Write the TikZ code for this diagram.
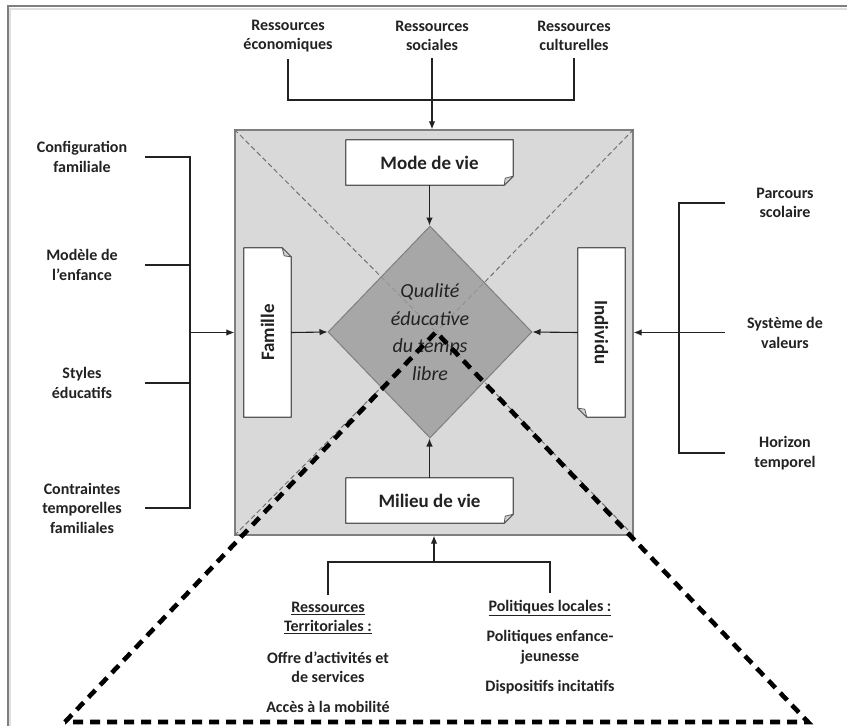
\documentclass[tikz,border=0pt]{standalone}
\usepackage{fontspec}
\setmainfont{Carlito}
\usetikzlibrary{arrows.meta,calc,shapes.geometric}
\definecolor{sqfill}{HTML}{D9D9D9}
\definecolor{dmfill}{HTML}{9C9C9C}
\definecolor{edge}{HTML}{7F7F7F}
\definecolor{ink}{HTML}{222222}
\pgfdeclarelayer{lzero}
\pgfdeclarelayer{lone}
\pgfsetlayers{lzero,lone,main}
\newcommand\noteBR[1]{%
  \begin{pgfonlayer}{lone}
  \draw[notepath] (#1.north west) -- (#1.north east) -- ($(#1.south east)+(0pt,9pt)$) -- ($(#1.south east)+(-9pt,0pt)$) -- (#1.south west) -- cycle;
  \draw[notefold] ($(#1.south east)+(0pt,9pt)$) -- ($(#1.south east)+(-8pt,7pt)$) -- ($(#1.south east)+(-9pt,0pt)$) -- cycle;
  \end{pgfonlayer}}
\newcommand\noteTR[1]{%
  \begin{pgfonlayer}{lone}
  \draw[notepath] (#1.north west) -- ($(#1.north east)+(-9pt,0pt)$) -- ($(#1.north east)+(0pt,-9pt)$) -- (#1.south east) -- (#1.south west) -- cycle;
  \draw[notefold] ($(#1.north east)+(-9pt,0pt)$) -- ($(#1.north east)+(-7pt,-8pt)$) -- ($(#1.north east)+(0pt,-9pt)$) -- cycle;
  \end{pgfonlayer}}
\newcommand\noteBL[1]{%
  \begin{pgfonlayer}{lone}
  \draw[notepath] (#1.north west) -- (#1.north east) -- (#1.south east) -- ($(#1.south west)+(9pt,0pt)$) -- ($(#1.south west)+(0pt,9pt)$) -- cycle;
  \draw[notefold] ($(#1.south west)+(9pt,0pt)$) -- ($(#1.south west)+(7pt,8pt)$) -- ($(#1.south west)+(0pt,9pt)$) -- cycle;
  \end{pgfonlayer}}
\begin{document}
\begin{tikzpicture}[x=1pt,y=-1pt,
  lbl/.style={font=\fontsize{16}{19.5}\selectfont\bfseries, text=ink, align=center, inner sep=0pt},
  boxlbl/.style={font=\fontsize{19}{22}\selectfont\bfseries, text=ink, inner sep=0pt},
  notepath/.style={draw=edge!70!black, line width=1.2pt, fill=white, line join=round},
  notefold/.style={draw=edge!70!black, line width=0.8pt, fill=gray!35, line join=round},
  conn/.style={draw=ink, line width=1.1pt},
  arr/.style={conn, -{Latex[length=8pt,width=6.5pt]}},
  bigdash/.style={draw=black, line width=4.6pt, dash pattern=on 10pt off 7pt, line join=miter},
  thindash/.style={draw=edge!90!black, line width=1pt, dash pattern=on 5pt off 3pt},
]
\useasboundingbox (0,0) rectangle (847,726);
\begin{pgfonlayer}{lzero}
\fill[white] (0,0) rectangle (847,726);
% outer frame
\draw[gray!25, line width=2pt] (10,726) -- (10,9) -- (847,9);
\draw[edge, line width=1.8pt] (8,726) -- (8,6) -- (847,6);
% central square
\node[draw=edge, fill=sqfill, line width=1.3pt, minimum width=398pt, minimum height=405pt, inner sep=0pt] (sq) at (434,332.5) {};
\coordinate (c) at (436,332);
\draw[thindash] (sq.north west) -- (c);
\draw[thindash] (sq.north east) -- (c);
\draw[thindash] (sq.south west) -- (c);
\draw[thindash] (sq.south east) -- (c);
\end{pgfonlayer}

% diamond
\node[diamond, draw=edge, line width=1pt, fill=dmfill, fill opacity=0.82, text opacity=1,
      minimum width=204pt, minimum height=212pt, inner sep=0pt, align=center, text=ink,
      font=\fontsize{20}{27.5}\selectfont\itshape] (dm) at (430,332) {Qualité\\éducative\\du temps\\libre};

% boxes
\node[boxlbl, minimum width=167pt, minimum height=45pt] (mode) at (429.5,162.5) {Mode de vie};
\node[boxlbl, minimum width=167pt, minimum height=45pt] (milieu) at (429.5,500.5) {Milieu de vie};
\node[boxlbl, minimum width=47pt, minimum height=169pt] (fam) at (267.5,332.5) {\rotatebox{90}{Famille}};
\node[boxlbl, minimum width=47pt, minimum height=169pt] (ind) at (601.5,332.5) {\rotatebox{-90}{Individu}};
\noteBR{mode}
\noteBR{milieu}
\noteTR{fam}
\noteBL{ind}

\draw[arr] (mode.south) -- (mode.south |- dm.north);
\draw[arr] (milieu.north) -- (milieu.north |- dm.south);
\draw[arr] (fam.east) -- (dm.west);
\draw[arr] (ind.west) -- (dm.east);

% top labels
\node[lbl] (re) at (288,36) {Ressources\\économiques};
\node[lbl] (rs) at (432,36) {Ressources\\sociales};
\node[lbl] (rc) at (574,36) {Ressources\\culturelles};
\coordinate (tbus) at (0,100);
\draw[conn] ([yshift=-7pt]re.south) -- (re.south |- tbus) -- (rc.south |- tbus) -- ([yshift=-7pt]rc.south);
\draw[arr] ([yshift=-7pt]rs.south) -- (rs.south |- sq.north);

% left labels
\node[lbl] (cf) at (82,157) {Configuration\\familiale};
\node[lbl] (me) at (82,265) {Modèle de\\l’enfance};
\node[lbl] (se) at (82,383) {Styles\\éducatifs};
\node[lbl] (ct) at (82,508) {Contraintes\\temporelles\\familiales};
\coordinate (lx) at (145,0);
\coordinate (lbus) at (190,0);
\draw[conn] (cf.east -| lx) -- (cf.east -| lbus) -- (ct.east -| lbus) -- (ct.east -| lx);
\draw[conn] (me.east -| lx) -- (me.east -| lbus);
\draw[conn] (se.east -| lx) -- (se.east -| lbus);
\draw[arr] (sq.west -| lbus) -- (sq.west);

% right labels
\node[lbl] (pc) at (785,203) {Parcours\\scolaire};
\node[lbl] (sv) at (785,333) {Système de\\valeurs};
\node[lbl] (hz) at (785,453) {Horizon\\temporel};
\coordinate (rx) at (725,0);
\coordinate (rbus) at (679,0);
\draw[conn] (pc.west -| rx) -- (pc.west -| rbus) -- (hz.west -| rbus) -- (hz.west -| rx);
\draw[arr] (sq.east -| rx) -- (sq.east);

% bottom labels
\node[lbl] (rt) at (328,618) {\underline{Ressources}\\\underline{Territoriales :}};
\node[lbl] (oa) at (328,667) {Offre d’activités et\\de services};
\node[lbl] (am) at (328,707) {Accès à la mobilité};
\node[lbl] (pl) at (550,608) {\underline{Politiques locales :}};
\node[lbl] (pe) at (550,647) {Politiques enfance-\\jeunesse};
\node[lbl] (dp) at (550,687) {Dispositifs incitatifs};
\coordinate (bbus) at (0,562);
\draw[conn] ([yshift=7pt]rt.north) -- (rt.north |- bbus) -- (pl.north |- bbus) -- ([yshift=7pt]pl.north);
\draw[arr] (sq.south |- bbus) -- (sq.south);

% thick dashed zoom triangle
\coordinate (tl) at (65,722);
\coordinate (tr) at (808,722);
\draw[bigdash] (tl) -- (c) -- (tr) -- cycle;
\end{tikzpicture}
\end{document}
